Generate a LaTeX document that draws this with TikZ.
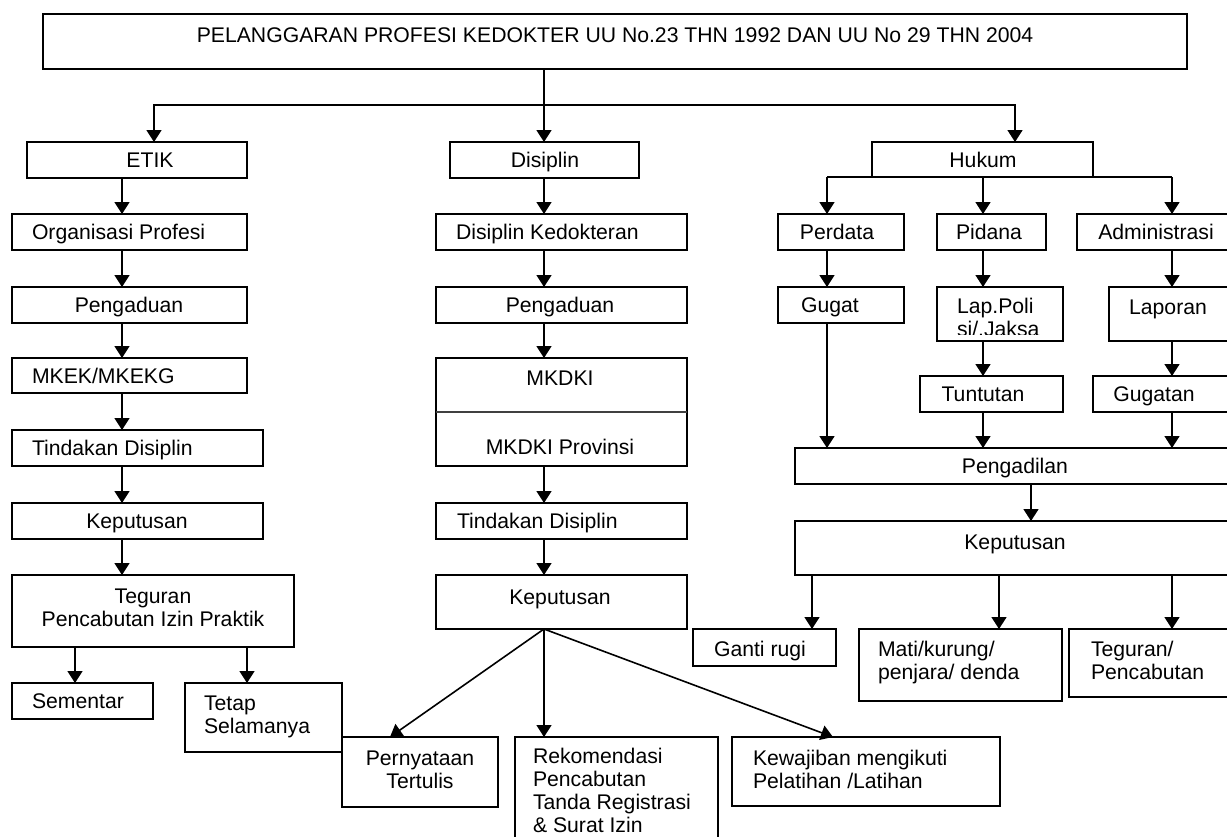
\documentclass[tikz,border=0pt]{standalone}
\usepackage{fontspec}
\setmainfont{Liberation Sans}
\usetikzlibrary{arrows.meta}
\tikzset{
  box/.style={draw=black, line width=1.6pt, fill=none, inner sep=0pt, outer sep=0pt},
  txt/.style={inner sep=0pt, outer sep=0pt, font=\fontsize{21.2}{23.5}\selectfont},
  conn/.style={line width=1.6pt},
  arr/.style={line width=1.6pt, -{Triangle[width=15pt,length=12pt]}},
}
\newcommand\mybox[5]{\node[box, anchor=north west, minimum width={(#4-#2)*1pt}, minimum height={(#5-#3)*1pt}] (#1) at (#2,#3) {};}
\begin{document}
\begin{tikzpicture}[x=1pt,y=-1pt]
\useasboundingbox (0,0) rectangle (1227,836);
\fill[white] (0,0) rectangle (1227,836);
\clip (0,0) rectangle (1227,836);

% ---------- boxes ----------
\mybox{top}{43}{14}{1187}{69}
\mybox{etik}{27}{142}{247}{178}
\mybox{disiplin}{450}{142}{639}{178}
\mybox{hukum}{872}{142}{1093}{177}
% left column
\mybox{org}{12}{214}{247}{250}
\mybox{pengL}{12}{287}{247}{323}
\mybox{mkek}{12}{358}{247}{393}
\mybox{tindL}{12}{430}{263}{466}
\mybox{kepL}{12}{503}{263}{539}
\mybox{tegL}{12}{575}{294}{647}
\mybox{sem}{12}{683}{153}{719}
\mybox{tetap}{185}{683}{342}{752}
% middle column
\mybox{dk}{436}{214}{687}{250}
\mybox{pengM}{436}{287}{687}{323}
\mybox{mkdki}{436}{358}{687}{466}
\mybox{tindM}{436}{503}{687}{539}
\mybox{kepM}{436}{575}{687}{629}
\mybox{pern}{342}{737}{498}{807}
\mybox{rek}{515}{737}{718}{870}
\mybox{kew}{732}{737}{1000}{806}
% right column
\mybox{perdata}{778}{214}{904}{250}
\mybox{pidana}{937}{214}{1046}{250}
\mybox{admin}{1077}{214}{1235}{250}
\mybox{gugat}{778}{287}{904}{323}
\mybox{lap}{937}{287}{1063}{341}
\mybox{laporan}{1109}{287}{1235}{341}
\mybox{tuntutan}{920}{376}{1063}{412}
\mybox{gugatan}{1093}{376}{1235}{412}
\mybox{peng}{795}{448}{1235}{484}
\mybox{kepR}{795}{521}{1235}{575}
\mybox{ganti}{693}{629}{836}{666}
\mybox{mati}{859}{629}{1062}{701}
\mybox{tegR}{1069}{629}{1235}{697}

% divider inside MKDKI box
\draw[line width=1.2pt, black!75] (mkdki.west |- 0,412) -- (mkdki.east |- 0,412);

% ---------- texts ----------
\node[txt, anchor=base] (top-t) at (615,42.5) {PELANGGARAN PROFESI KEDOKTER UU No.23 THN 1992 DAN UU No 29 THN 2004};
\node[txt, anchor=base] (etik-t) at (150,167.5) {ETIK};
\node[txt, anchor=base] (disiplin-t) at (545,167.5) {Disiplin};
\node[txt, anchor=base] (hukum-t) at (983,167) {Hukum};

\node[txt, anchor=base west] (org-t) at (32,239.5) {Organisasi Profesi};
\node[txt, anchor=base] (pengL-t) at (129,312.5) {Pengaduan};
\node[txt, anchor=base west] (mkek-t) at (32,383) {MKEK/MKEKG};
\node[txt, anchor=base west] (tindL-t) at (32,455.5) {Tindakan Disiplin};
\node[txt, anchor=base] (kepL-t) at (137,528) {Keputusan};
\node[txt, anchor=north, align=center] (tegL-t) at (153,587) {\rule{0pt}{16pt}Teguran\\Pencabutan Izin Praktik};
\node[txt, anchor=base west] (sem-t) at (32,708) {Sementar};
\node[txt, anchor=north west, align=left] (tetap-t) at (204,694) {\rule{0pt}{16pt}Tetap\\Selamanya};

\node[txt, anchor=base west] (dk-t) at (456,239.5) {Disiplin Kedokteran};
\node[txt, anchor=base] (pengM-t) at (560,312.5) {Pengaduan};
\node[txt, anchor=base] (mkdki-t) at (560,385.5) {MKDKI};
\node[txt, anchor=base] (mkdkip-t) at (560,454.5) {MKDKI Provinsi};
\node[txt, anchor=base west] (tindM-t) at (457,528.5) {Tindakan Disiplin};
\node[txt, anchor=base] (kepM-t) at (560,604.5) {Keputusan};
\node[txt, anchor=north, align=center] (pern-t) at (420,749) {\rule{0pt}{16pt}Pernyataan\\Tertulis};
\node[txt, anchor=north west, align=left, font=\fontsize{21.2}{23}\selectfont] (rek-t) at (533,747) {\rule{0pt}{16pt}Rekomendasi\\Pencabutan\\Tanda Registrasi\\\& Surat Izin};
\node[txt, anchor=north west, align=left] (kew-t) at (753,749) {\rule{0pt}{16pt}Kewajiban mengikuti\\Pelatihan /Latihan};

\node[txt, anchor=base] (perdata-t) at (837,239.5) {Perdata};
\node[txt, anchor=base] (pidana-t) at (989,239.5) {Pidana};
\node[txt, anchor=base] (admin-t) at (1156,239.5) {Administrasi};
\node[txt, anchor=base west] (gugat-t) at (801,312.5) {Gugat};
\coordinate (lapclip) at (1063,334);
\begin{scope}
\clip (lap.north west) rectangle (lapclip);
\node[txt, anchor=north west, align=left] (lap-t) at (957,297) {\rule{0pt}{16pt}Lap.Poli\\si/.Jaksa};
\end{scope}
\node[txt, anchor=base] (laporan-t) at (1168,314.5) {Laporan};
\node[txt, anchor=base] (tuntutan-t) at (983,401.5) {Tuntutan};
\node[txt, anchor=base] (gugatan-t) at (1154,401.5) {Gugatan};
\node[txt, anchor=base] (peng-t) at (1015,473.5) {Pengadilan};
\node[txt, anchor=base] (kepR-t) at (1015,549.5) {Keputusan};
\node[txt, anchor=base west] (ganti-t) at (714,656) {Ganti rugi};
\node[txt, anchor=north west, align=left] (mati-t) at (878,640) {\rule{0pt}{16pt}Mati/kurung/\\penjara/ denda};
\node[txt, anchor=north west, align=left] (tegR-t) at (1091,640) {\rule{0pt}{16pt}Teguran/\\Pencabutan};

% ---------- x positions of connectors ----------
\coordinate (xm) at (544,0);
\coordinate (xe) at (154,0);
\coordinate (xh) at (1015,0);
\coordinate (xl) at (122,0);
\coordinate (xs) at (75,0);
\coordinate (xt) at (247,0);
\coordinate (xp) at (827,0);
\coordinate (xq) at (983,0);
\coordinate (xa) at (1172,0);
\coordinate (xk) at (1031,0);
\coordinate (xg) at (812,0);
\coordinate (xd) at (999,0);
\coordinate (xn) at (390,0);
\coordinate (xw) at (833,0);
\coordinate (j) at (544,105);

% ---------- connectors ----------
\draw[conn] (top.south -| xm) -- (j);
\draw[arr] (j) -| (xe |- etik.north);
\draw[arr] (j) -- (xm |- disiplin.north);
\draw[arr] (j) -| (xh |- hukum.north);

% left chain
\draw[arr] (xl |- etik.south) -- (xl |- org.north);
\draw[arr] (xl |- org.south) -- (xl |- pengL.north);
\draw[arr] (xl |- pengL.south) -- (xl |- mkek.north);
\draw[arr] (xl |- mkek.south) -- (xl |- tindL.north);
\draw[arr] (xl |- tindL.south) -- (xl |- kepL.north);
\draw[arr] (xl |- kepL.south) -- (xl |- tegL.north);
\draw[arr] (xs |- tegL.south) -- (xs |- sem.north);
\draw[arr] (xt |- tegL.south) -- (xt |- tetap.north);

% middle chain
\draw[arr] (xm |- disiplin.south) -- (xm |- dk.north);
\draw[arr] (xm |- dk.south) -- (xm |- pengM.north);
\draw[arr] (xm |- pengM.south) -- (xm |- mkdki.north);
\draw[arr] (xm |- mkdki.south) -- (xm |- tindM.north);
\draw[arr] (xm |- tindM.south) -- (xm |- kepM.north);
\draw[arr] (xm |- kepM.south) -- (xn |- pern.north);
\draw[arr] (xm |- kepM.south) -- (xm |- rek.north);
\draw[arr] (xm |- kepM.south) -- (xw |- kew.north);

% right chain
\draw[conn] (xp |- hukum.south) -- (xa |- hukum.south);
\draw[arr] (xp |- hukum.south) -- (xp |- perdata.north);
\draw[arr] (xq |- hukum.south) -- (xq |- pidana.north);
\draw[arr] (xa |- hukum.south) -- (xa |- admin.north);
\draw[arr] (xp |- perdata.south) -- (xp |- gugat.north);
\draw[arr] (xq |- pidana.south) -- (xq |- lap.north);
\draw[arr] (xa |- admin.south) -- (xa |- laporan.north);
\draw[arr] (xq |- lap.south) -- (xq |- tuntutan.north);
\draw[arr] (xa |- laporan.south) -- (xa |- gugatan.north);
\draw[arr] (xp |- gugat.south) -- (xp |- peng.north);
\draw[arr] (xq |- tuntutan.south) -- (xq |- peng.north);
\draw[arr] (xa |- gugatan.south) -- (xa |- peng.north);
\draw[arr] (xk |- peng.south) -- (xk |- kepR.north);
\draw[arr] (xg |- kepR.south) -- (xg |- ganti.north);
\draw[arr] (xd |- kepR.south) -- (xd |- mati.north);
\draw[arr] (xa |- kepR.south) -- (xa |- tegR.north);
\end{tikzpicture}
\end{document}
